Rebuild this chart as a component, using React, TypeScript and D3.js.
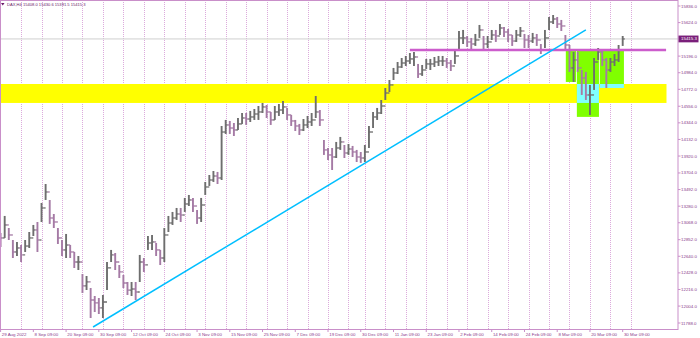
import React from "react";
import * as d3 from "d3";

// ---- data (daily) ----
const closes = [
  12874, 13040, 12912, 12695, 12746, 12657, 12771, 12874, 12976, 12848,
  13257, 13461, 13129, 13078, 12874, 12721, 12784, 12695, 12567, 12567,
  12261, 12312, 12082, 12044, 11980, 12056, 12491, 12657, 12567, 12440,
  12299, 12209, 12222, 12184, 12567, 12529, 12810, 12823, 12721, 12618,
  12912, 13065, 13129, 13180, 13167, 13308, 13359, 13282, 13129, 13295,
  13525, 13614, 13665, 13640, 14227, 14317, 14278, 14253, 14330, 14406,
  14393, 14419, 14457, 14483, 14547, 14483, 14381, 14483, 14508, 14547,
  14445, 14368, 14304, 14253, 14317, 14355, 14381, 14483, 14381, 13998,
  13934, 13908, 14023, 14100, 13959, 14010, 13972, 13908, 13895, 13972,
  14227, 14419, 14470, 14559, 14725, 14828, 14981, 15057, 15108, 15134,
  15160, 15185, 14968, 15019, 15096, 15096, 15121, 15134, 15134, 15108,
  15070, 15198, 15428, 15428, 15377, 15351, 15402, 15530, 15351, 15377,
  15466, 15453, 15555, 15504, 15466, 15389, 15466, 15517, 15402, 15389,
  15428, 15402, 15275, 15428, 15632, 15670, 15606, 15581, 15338, 15045,
  15147, 15045, 14917, 14700, 14700, 15121, 15249, 15147, 15019, 15121,
  15147, 15275, 15415.3,
];
const highs = [
  12938, 13155, 13001, 12848, 12823, 12784, 12848, 12950, 13040, 13078,
  13321, 13563, 13359, 13180, 13001, 12848, 12925, 12784, 12695, 12644,
  12414, 12389, 12235, 12133, 12107, 12146, 12567, 12721, 12682, 12529,
  12401, 12312, 12312, 12312, 12657, 12618, 12899, 12912, 12810, 12721,
  13001, 13155, 13206, 13257, 13257, 13385, 13423, 13385, 13231, 13385,
  13589, 13678, 13729, 13717, 14304, 14381, 14368, 14342, 14406, 14470,
  14470, 14496, 14521, 14559, 14598, 14572, 14483, 14559, 14585, 14623,
  14534, 14445, 14381, 14330, 14393, 14432, 14470, 14687, 14508, 14125,
  14023, 14023, 14100, 14164, 14061, 14074, 14049, 13998, 13972, 14061,
  14304, 14483, 14534, 14636, 14789, 14891, 15045, 15121, 15172, 15198,
  15236, 15249, 15096, 15083, 15160, 15160, 15185, 15198, 15198, 15172,
  15147, 15275, 15517, 15530, 15453, 15428, 15479, 15594, 15453, 15453,
  15530, 15530, 15606, 15568, 15543, 15466, 15530, 15568, 15479, 15466,
  15492, 15479, 15351, 15530, 15696, 15721, 15696, 15658, 15466, 15338,
  15249, 15249, 15019, 14994, 14828, 15172, 15300, 15275, 15172, 15172,
  15223, 15338, 15453,
];
const lows = [
  12759, 12874, 12848, 12618, 12644, 12567, 12695, 12746, 12899, 12695,
  13078, 13359, 13053, 13001, 12797, 12644, 12618, 12618, 12491, 12465,
  12171, 12209, 11852, 11929, 11903, 11852, 12209, 12567, 12465, 12363,
  12235, 12146, 12133, 12082, 12312, 12440, 12721, 12721, 12644, 12529,
  12567, 12950, 13040, 13104, 13078, 13206, 13282, 13206, 13053, 13078,
  13423, 13538, 13589, 13563, 13614, 14202, 14202, 14176, 14253, 14330,
  14317, 14355, 14381, 14381, 14470, 14406, 14317, 14381, 14432, 14457,
  14381, 14304, 14240, 14189, 14240, 14278, 14304, 14406, 14304, 13934,
  13870, 13742, 13895, 13998, 13895, 13934, 13908, 13844, 13832, 13844,
  14023, 14278, 14381, 14457, 14636, 14738, 14891, 14968, 15045, 15070,
  15096, 15070, 14917, 14943, 15032, 15019, 15057, 15070, 15070, 15045,
  15006, 15096, 15275, 15351, 15313, 15287, 15326, 15428, 15287, 15300,
  15402, 15377, 15466, 15440, 15377, 15326, 15377, 15440, 15300, 15300,
  15364, 15326, 15223, 15300, 15530, 15606, 15555, 15517, 15275, 14994,
  14866, 14994, 14700, 14636, 14445, 14764, 15147, 15070, 14789, 14994,
  15070, 15121, 15326,
];
const firstOpen = 12900;

const xLabels = [
  "29 Aug 2022", "8 Sep 09:00", "20 Sep 09:00", "30 Sep 09:00", "12 Oct 09:00",
  "24 Oct 09:00", "3 Nov 09:00", "15 Nov 09:00", "25 Nov 09:00", "7 Dec 09:00",
  "19 Dec 09:00", "30 Dec 09:00", "11 Jan 09:00", "23 Jan 09:00", "2 Feb 09:00",
  "14 Feb 09:00", "24 Feb 09:00", "8 Mar 09:00", "20 Mar 09:00", "30 Mar 09:00",
];
const xLabelDays = [0, 8, 16, 24, 32, 40, 48, 56, 64, 72, 80, 88, 96, 104, 112, 120, 128, 136, 144, 152];
const gridDays = [
  5, 10, 15, 20, 25, 30, 35, 40, 45, 50, 55, 60, 65, 70, 75, 80, 85,
  89, 94, 99, 104, 109, 114, 119, 124, 129, 134, 139, 144, 149, 154,
];
const yTicks = [
  15836, 15624, 15196, 14984, 14772, 14556, 14344, 14132, 13920, 13704,
  13492, 13280, 13068, 12852, 12640, 12428, 12216, 12004, 11788,
];
const header = "DAX,H4  15408.0 15430.6 15391.5 15415.3";

// annotations (in day index / price units)
const supportZone = { x0: -1, x1: 162.7, top: 14840, bottom: 14598 };
const boxes = [
  { x0: 138.1, x1: 140.6, top: 15265, bottom: 14866 },
  { x0: 140.8, x1: 146.2, top: 15265, bottom: 14420 },
  { x0: 146.4, x1: 152.3, top: 15265, bottom: 14789 },
];
const resistance = { x0: 100, x1: 162.6, price: 15275 };
const trend = { x0: 22.6, p0: 11737, x1: 143.0, p1: 15530 };

const W = 700;
const H = 338;
const plotR = 678;
const plotB = 329.5;
const font = "'Liberation Sans', Arial, sans-serif";
const axisColor = "#c98fc9";
const labelColor = "#8a3a8a";
const bull = "#6e6e6e";
const bear = "#a57aa5";

export default function App() {
  const x = d3.scaleLinear().domain([0, 152]).range([0.6, 622.7]);
  const y = d3.scaleLinear().domain([11788, 15836]).range([323, 6]);
  const last = closes[closes.length - 1];

  const bars = closes.map((c, i) => {
    const o = i === 0 ? firstOpen : closes[i - 1];
    const cx = x(i);
    const col = c >= o ? bull : bear;
    return (
      <g key={i} stroke={col}>
        <line x1={cx} x2={cx} y1={y(highs[i])} y2={y(lows[i])} strokeWidth={1.9} />
        <line x1={cx - 2.1} x2={cx} y1={y(o)} y2={y(o)} strokeWidth={1.3} />
        <line x1={cx} x2={cx + 2.1} y1={y(c)} y2={y(c)} strokeWidth={1.3} />
      </g>
    );
  });

  const overlaps = boxes
    .map((b) => {
      const top = Math.min(b.top, supportZone.top);
      const bot = Math.max(b.bottom, supportZone.bottom);
      return top > bot ? { x0: b.x0, x1: b.x1, top, bottom: bot } : null;
    })
    .filter(Boolean) as { x0: number; x1: number; top: number; bottom: number }[];

  return (
    <svg
      width={W}
      height={H}
      style={{ position: "fixed", left: 0, top: 0, background: "#fff" }}
      fontFamily={font}
    >
      <defs>
        <clipPath id="plot">
          <rect x={0} y={0} width={plotR} height={plotB} />
        </clipPath>
      </defs>
      <rect x={0} y={0} width={W} height={H} fill="#fff" />
      <g clipPath="url(#plot)">
        {gridDays.map((d) => (
          <line
            key={d}
            x1={Math.round(x(d)) + 0.5}
            x2={Math.round(x(d)) + 0.5}
            y1={0}
            y2={plotB}
            stroke="#dcaadc"
            strokeWidth={1}
            strokeDasharray="1,1"
          />
        ))}
        <rect
          x={x(supportZone.x0)}
          width={x(supportZone.x1) - x(supportZone.x0)}
          y={y(supportZone.top)}
          height={y(supportZone.bottom) - y(supportZone.top)}
          fill="#ffff00"
        />
        {boxes.map((b, i) => (
          <rect
            key={i}
            x={x(b.x0)}
            width={x(b.x1) - x(b.x0)}
            y={y(b.top)}
            height={y(b.bottom) - y(b.top)}
            fill="#80ff00"
          />
        ))}
        {overlaps.map((b, i) => (
          <rect
            key={i}
            x={x(b.x0)}
            width={x(b.x1) - x(b.x0)}
            y={y(b.top)}
            height={y(b.bottom) - y(b.top)}
            fill="#80ffff"
          />
        ))}
        <line x1={0} x2={plotR} y1={y(last)} y2={y(last)} stroke="#cfcfcf" strokeWidth={1} />
        {bars}
        <line
          x1={x(resistance.x0)}
          x2={x(resistance.x1)}
          y1={y(resistance.price)}
          y2={y(resistance.price)}
          stroke="#cc5ccc"
          strokeWidth={2.4}
        />
        <line
          x1={x(trend.x0)}
          y1={y(trend.p0)}
          x2={x(trend.x1)}
          y2={y(trend.p1)}
          stroke="#00bfff"
          strokeWidth={1.5}
        />
      </g>
      {/* frame */}
      <rect x={0.5} y={0.5} width={plotR - 0.5} height={plotB - 0.5} fill="none" stroke={axisColor} strokeWidth={1} />
      {/* header */}
      <path d="M1,3 L4.5,3 L2.75,5.5 Z" fill="#6a1b6a" />
      <text x={7} y={6} fontSize={4.1} fill="#6a1b6a">
        {header}
      </text>
      {/* y axis */}
      {yTicks.map((t) => (
        <g key={t}>
          <line x1={plotR} x2={plotR + 2.5} y1={y(t)} y2={y(t)} stroke={axisColor} />
          <text x={681} y={y(t) + 1.5} fontSize={4.4} fill={labelColor}>
            {t.toFixed(1)}
          </text>
        </g>
      ))}
      <rect x={678.5} y={y(last) - 3.4} width={20} height={6.8} fill="#7a1f7a" />
      <text x={681} y={y(last) + 1.5} fontSize={4.4} fill="#ffffff">
        {last.toFixed(1)}
      </text>
      {/* x axis */}
      {xLabels.map((l, i) => {
        const px = x(xLabelDays[i]);
        return (
          <g key={l}>
            <line x1={px} x2={px} y1={plotB} y2={plotB + 2.5} stroke={axisColor} />
            <text x={px + 1.2} y={335.5} fontSize={4.4} fill={labelColor}>
              {l}
            </text>
          </g>
        );
      })}
    </svg>
  );
}
